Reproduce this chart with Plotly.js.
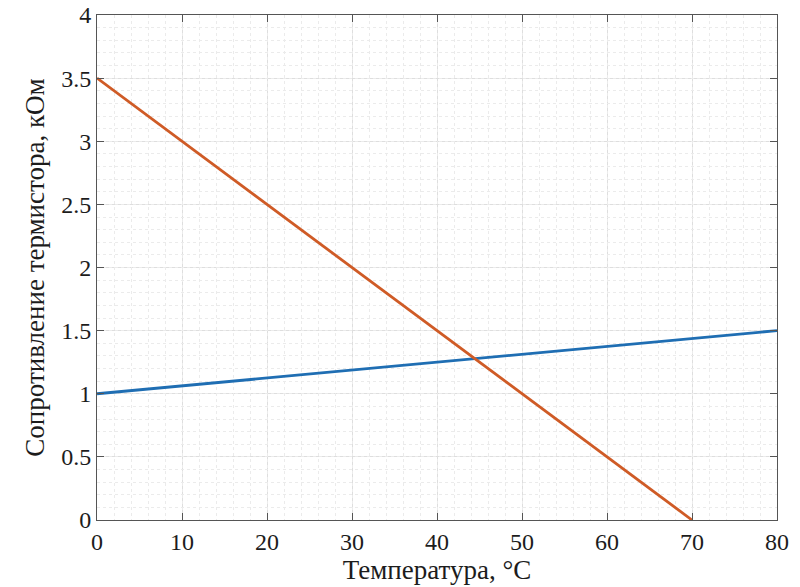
<!DOCTYPE html>
<html>
<head>
<meta charset="utf-8">
<script src="https://cdn.plot.ly/plotly-3.0.1.min.js"></script>
<style>html,body{margin:0;padding:0;background:#fff;}#chart{width:800px;height:587px;}</style>
</head>
<body>
<div id="chart"></div>
<script>
// Data
const tempBlue = [0, 80];
const resBlue = [1.0, 1.5];
const tempOrange = [0, 70];
const resOrange = [3.5, 0.0];
const xTickVals = [0, 10, 20, 30, 40, 50, 60, 70, 80];
const xTickText = ['0', '10', '20', '30', '40', '50', '60', '70', '80'];
const yTickVals = [0, 0.5, 1, 1.5, 2, 2.5, 3, 3.5, 4];
const yTickText = ['0', '0.5', '1', '1.5', '2', '2.5', '3', '3.5', '4'];
const xTitle = 'Температура, °С';
const yTitle = 'Сопротивление термистора, кОм';

const FONT = 'Liberation Serif';
const TEXT = '#1c1c1c';

const traces = [
  {x: tempBlue, y: resBlue, mode: 'lines', line: {color: '#1F6EB3', width: 2.8}, hoverinfo: 'skip'},
  {x: tempOrange, y: resOrange, mode: 'lines', line: {color: '#CF5B26', width: 2.8}, hoverinfo: 'skip'},
  // invisible helper trace on overlay axes for the minor grid
  {x: [0, 80], y: [0, 4], xaxis: 'x2', yaxis: 'y2', mode: 'markers', marker: {opacity: 0}, hoverinfo: 'skip'}
];

const minorAxis = {
  showline: false, ticks: '', showticklabels: false, zeroline: false,
  showgrid: true, gridcolor: '#ebebeb', griddash: 'dot', gridwidth: 1
};

const layout = {
  width: 800, height: 587,
  margin: {l: 97, r: 23, t: 15, b: 67},
  paper_bgcolor: '#fff', plot_bgcolor: '#fff',
  font: {family: FONT, size: 24, color: TEXT},
  showlegend: false,
  xaxis2: Object.assign({}, minorAxis, {overlaying: 'x', range: [0, 80], dtick: 2, tick0: 0}),
  yaxis2: Object.assign({}, minorAxis, {overlaying: 'y', range: [0, 4], dtick: 0.1, tick0: 0}),
  xaxis: {
    range: [0, 80], tickmode: 'array', tickvals: xTickVals, ticktext: xTickText,
    tickfont: {family: FONT, size: 24, color: TEXT},
    showline: true, linecolor: '#555', linewidth: 1, mirror: 'ticks',
    ticks: 'inside', ticklen: 7, tickcolor: '#555', tickwidth: 1,
    showgrid: true, gridcolor: '#dedede', gridwidth: 1, zeroline: false,
    title: {text: xTitle, font: {family: FONT, size: 27, color: TEXT}, standoff: 2}
  },
  yaxis: {
    range: [0, 4], tickmode: 'array', tickvals: yTickVals, ticktext: yTickText,
    tickfont: {family: FONT, size: 24, color: TEXT},
    showline: true, linecolor: '#555', linewidth: 1, mirror: 'ticks',
    ticks: 'inside', ticklen: 7, tickcolor: '#555', tickwidth: 1,
    showgrid: true, gridcolor: '#dedede', gridwidth: 1, zeroline: false,
    title: {text: yTitle, font: {family: FONT, size: 27, color: TEXT}, standoff: 8}
  }
};

Plotly.newPlot('chart', traces, layout, {staticPlot: true, displayModeBar: false});
</script>
</body>
</html>
